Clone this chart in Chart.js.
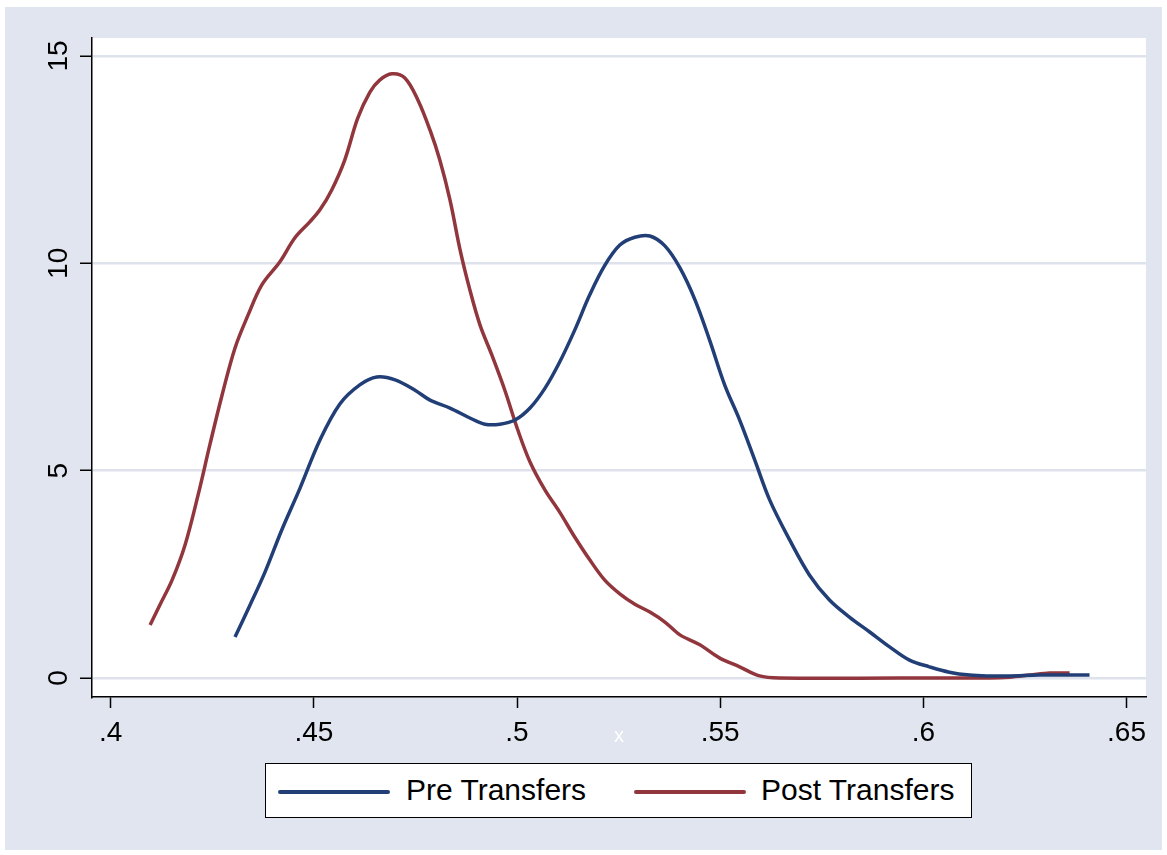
<!DOCTYPE html>
<html>
<head>
<meta charset="utf-8">
<script src="https://cdn.jsdelivr.net/npm/chart.js@4.4.1/dist/chart.umd.min.js"></script>
<style>
    html, body { margin: 0; padding: 0; background: #fff; }
    #wrap { position: relative; width: 1167px; height: 855px; font-family: "Liberation Sans", Arial, sans-serif; }
    #chart { position: absolute; left: 0; top: 0; }
    .legend {
        position: absolute; left: 265px; top: 763px; width: 705px; height: 53px;
        background: #fff; border: 1.5px solid #000;
    }
    .legend .swatch { position: absolute; top: 26px; width: 112px; height: 4px; border-radius: 2px; }
    .legend .label { position: absolute; top: 9px; font-size: 30px; line-height: 34px; color: #000; }
</style>
</head>
<body>
<div id="wrap">
    <canvas id="chart" width="1167" height="855"></canvas>
    <div class="legend">
        <div class="swatch" style="left: 12px; background: #213f76;"></div>
        <div class="label" style="left: 140px;">Pre Transfers</div>
        <div class="swatch" style="left: 368px; background: #92363d;"></div>
        <div class="label" style="left: 495px;">Post Transfers</div>
    </div>
</div>
<script>
// kernel density estimates
const preX = [0.4306, 0.4343, 0.438, 0.4421, 0.4466, 0.4515, 0.4564, 0.4613, 0.4655, 0.47, 0.4749, 0.4786,
    0.4835, 0.4884, 0.4921, 0.4958, 0.4995, 0.5032, 0.5069, 0.5105, 0.5142, 0.5179, 0.5216, 0.5253, 0.529,
    0.5327, 0.5364, 0.5401, 0.5438, 0.5474, 0.5511, 0.5548, 0.5585, 0.5622, 0.5671, 0.572, 0.5769, 0.5818,
    0.5868, 0.5917, 0.5966, 0.6015, 0.6064, 0.6114, 0.6163, 0.6212, 0.6286, 0.6409];
const preY = [0.99, 1.76, 2.56, 3.57, 4.58, 5.74, 6.61, 7.07, 7.26, 7.19, 6.94, 6.70,
    6.51, 6.27, 6.12, 6.12, 6.22, 6.51, 6.99, 7.62, 8.39, 9.24, 9.95, 10.44, 10.63,
    10.66, 10.42, 9.89, 9.12, 8.15, 7.07, 6.22, 5.26, 4.29, 3.33, 2.48, 1.88, 1.47,
    1.11, 0.75, 0.43, 0.27, 0.14, 0.07, 0.05, 0.05, 0.07, 0.07];

const postX = [0.4097, 0.4121, 0.4151, 0.4183, 0.4215, 0.4244, 0.4274, 0.4306, 0.4338, 0.4372, 0.4416,
    0.4453, 0.449, 0.4515, 0.4544, 0.4576, 0.4608, 0.4638, 0.4662, 0.4692, 0.4724, 0.4756, 0.4786, 0.481,
    0.4835, 0.486, 0.4884, 0.4909, 0.4938, 0.497, 0.5002, 0.5032, 0.5069, 0.5105, 0.5142, 0.5179, 0.5216,
    0.5253, 0.529, 0.5327, 0.5364, 0.5401, 0.545, 0.5499, 0.5548, 0.5597, 0.5646, 0.5941, 0.6163, 0.6212,
    0.6262, 0.6311, 0.636];
const postY = [1.28, 1.76, 2.36, 3.21, 4.41, 5.62, 6.82, 7.96, 8.75, 9.48, 10.03,
    10.61, 11.0, 11.29, 11.77, 12.49, 13.5, 14.13, 14.42, 14.57, 14.47, 13.94, 13.21, 12.49,
    11.53, 10.32, 9.36, 8.51, 7.79, 6.94, 5.98, 5.21, 4.53, 4.0, 3.40, 2.85, 2.36,
    2.03, 1.78, 1.59, 1.35, 1.04, 0.80, 0.48, 0.27, 0.05, 0.0, 0.0, 0.0, 0.02,
    0.07, 0.12, 0.12];

const xTicks = [0.4, 0.45, 0.5, 0.55, 0.6, 0.65];
const xTickLabels = ['.4', '.45', '.5', '.55', '.6', '.65'];
const yTicks = [0, 5, 10, 15];
const yTickLabels = ['0', '5', '10', '15'];

const BG = '#e1e5ef';
const GRID = '#dde2ec';
const FONT = '"Liberation Sans", Arial, sans-serif';

const toPoints = (xs, ys) => xs.map((x, i) => ({ x: x, y: ys[i] }));

// graph region background + white plot region, Stata style
const backdrop = {
    id: 'backdrop',
    beforeDraw(chart) {
        const { ctx, chartArea: a } = chart;
        ctx.save();
        ctx.fillStyle = BG;
        ctx.fillRect(5, 7, 1157, 843);
        ctx.fillStyle = '#fff';
        ctx.fillRect(a.left, a.top, a.right - a.left, a.bottom - a.top);
        ctx.restore();
    },
    afterDraw(chart) {
        const { ctx, chartArea: a } = chart;
        const y = chart.scales.y;
        ctx.save();
        ctx.fillStyle = '#000';
        ctx.font = '28px ' + FONT;
        ctx.textAlign = 'center';
        ctx.textBaseline = 'alphabetic';
        yTicks.forEach((v, i) => {
            ctx.save();
            ctx.translate(67, y.getPixelForValue(v));
            ctx.rotate(-Math.PI / 2);
            ctx.fillText(yTickLabels[i], 0, 0);
            ctx.restore();
        });
        // axis title, white like the original
        ctx.fillStyle = '#fff';
        ctx.font = '20px ' + FONT;
        ctx.fillText('x', (a.left + a.right) / 2, 742);
        ctx.restore();
    }
};

new Chart(document.getElementById('chart'), {
    type: 'line',
    data: {
        datasets: [
            {
                label: 'Pre Transfers',
                data: toPoints(preX, preY),
                borderColor: '#213f76',
                borderWidth: 3.5,
                pointRadius: 0,
                tension: 0.35,
                fill: false
            },
            {
                label: 'Post Transfers',
                data: toPoints(postX, postY),
                borderColor: '#92363d',
                borderWidth: 3.5,
                pointRadius: 0,
                tension: 0.35,
                fill: false
            }
        ]
    },
    options: {
        responsive: false,
        devicePixelRatio: 1,
        animation: false,
        layout: { padding: { left: 0, top: 38, right: 21, bottom: 98 } },
        plugins: { legend: { display: false }, tooltip: { enabled: false } },
        scales: {
            x: {
                type: 'linear',
                min: 0.3954,
                max: 0.6548,
                afterBuildTicks: (s) => { s.ticks = xTicks.map(v => ({ value: v })); },
                afterFit: (s) => { s.height = 60; },
                ticks: {
                    color: '#000',
                    font: { family: FONT, size: 28 },
                    padding: 8,
                    maxRotation: 0,
                    callback: (v, i) => xTickLabels[i]
                },
                grid: { drawOnChartArea: false, tickLength: 11, tickColor: '#000', tickWidth: 1.5 },
                border: { color: '#000', width: 1.5 }
            },
            y: {
                min: -0.458,
                max: 15.434,
                afterBuildTicks: (s) => { s.ticks = yTicks.map(v => ({ value: v })); },
                afterFit: (s) => { s.width = 92; },
                ticks: { display: false },
                grid: { color: GRID, lineWidth: 2.5, tickLength: 12, tickColor: '#000', tickWidth: 1.5 },
                border: { color: '#000', width: 1.5 }
            }
        }
    },
    plugins: [backdrop]
});
</script>
</body>
</html>
